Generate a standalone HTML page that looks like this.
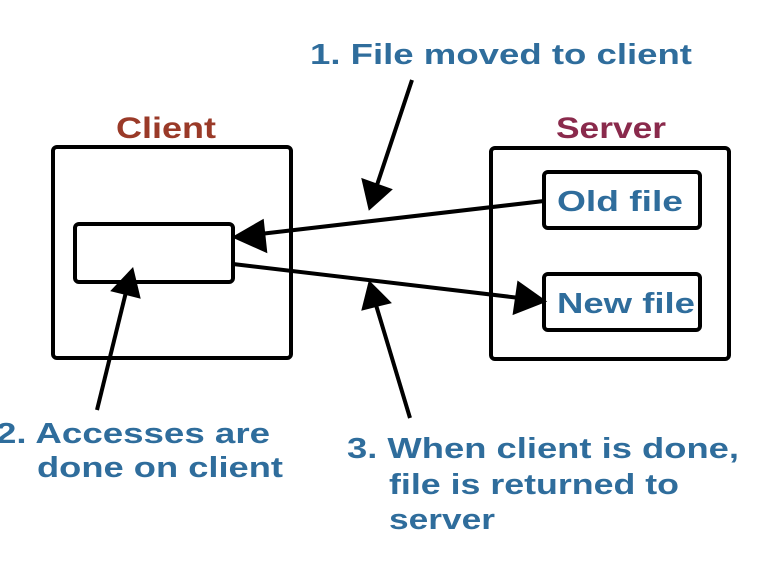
<!DOCTYPE html>
<html><head><style>html,body{margin:0;padding:0;background:#fff;width:782px;height:576px;overflow:hidden}</style></head>
<body>
<svg width="782" height="576" viewBox="0 0 782 576" xmlns="http://www.w3.org/2000/svg">
<defs>
<marker id="a" markerWidth="10" markerHeight="10" refX="9" refY="5" orient="auto" markerUnits="userSpaceOnUse" viewBox="0 0 10 10"><path d="M0,0 L10,5 L0,10 z" fill="#000"/></marker>
</defs>
<g font-family="Liberation Sans, sans-serif" font-weight="bold">
<text x="116" y="138" font-size="30" fill="#9a3a28" textLength="100" lengthAdjust="spacingAndGlyphs">Client</text>
<text x="556" y="138" font-size="30" fill="#8a2a4c" textLength="110" lengthAdjust="spacingAndGlyphs">Server</text>
<g fill="#2f6d9c" font-size="29">
<text x="310" y="64" textLength="382" lengthAdjust="spacingAndGlyphs">1. File moved to client</text>
<text x="-4" y="443" textLength="274" lengthAdjust="spacingAndGlyphs">2. Accesses are</text>
<text x="37" y="477" textLength="246" lengthAdjust="spacingAndGlyphs">done on client</text>
<text x="347" y="458" textLength="392" lengthAdjust="spacingAndGlyphs">3. When client is done,</text>
<text x="389" y="494" textLength="290" lengthAdjust="spacingAndGlyphs">file is returned to</text>
<text x="389" y="529" textLength="106" lengthAdjust="spacingAndGlyphs">server</text>
<text x="557" y="211" textLength="126" lengthAdjust="spacingAndGlyphs">Old file</text>
<text x="557" y="313" textLength="138" lengthAdjust="spacingAndGlyphs">New file</text>
</g>
</g>
<g fill="none" stroke="#000" stroke-width="4">
<rect x="53" y="147" width="238" height="211" rx="4"/>
<rect x="75" y="224" width="158" height="58" rx="4"/>
<rect x="491" y="148" width="238" height="211" rx="4"/>
<rect x="544" y="172" width="156" height="56" rx="4"/>
<rect x="544" y="274" width="156" height="56" rx="4"/>
</g>
<g stroke="#000" stroke-width="4" fill="#000">
<line x1="544" y1="201" x2="260" y2="234"/>
<path d="M236,237 L262,222 L265,250 z"/>
<line x1="233" y1="264" x2="520" y2="298"/>
<path d="M543,301 L515,312 L519,284 z"/>
<line x1="412" y1="80" x2="377" y2="185"/>
<path d="M370,207 L364,181 L389,190 z"/>
<line x1="97" y1="410" x2="126" y2="292"/>
<path d="M132,271 L138,296 L114,290 z"/>
<line x1="410" y1="418" x2="376" y2="305"/>
<path d="M370,284 L388,302 L364,308 z"/>
</g>
</svg>
</body></html>
